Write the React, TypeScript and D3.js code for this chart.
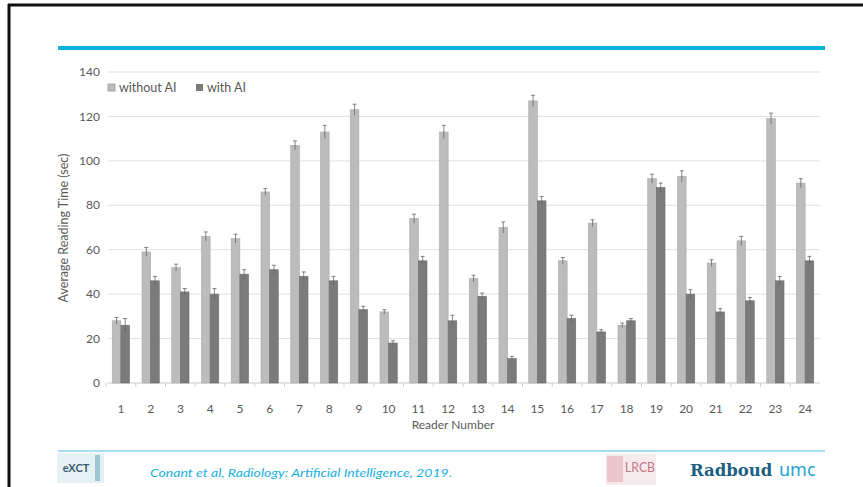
import React from "react";
import * as d3 from "d3";

// reader ids and average reading times (sec)
const readers = ["1","2","3","4","5","6","7","8","9","10","11","12","13","14","15","16","17","18","19","20","21","22","23","24"];
const withoutAI = [28, 59, 52, 66, 65, 86, 107, 113, 123, 32, 74, 113, 47, 70, 127, 55, 72, 26, 92, 93, 54, 64, 119, 90];
const withAI = [26, 46, 41, 40, 49, 51, 48, 46, 33, 18, 55, 28, 39, 11, 82, 29, 23, 28, 88, 40, 32, 37, 46, 55];
const errWithout = [1.5, 2, 1.5, 2, 2, 1.5, 2, 3, 2.5, 1, 2, 3, 1.5, 2.5, 2.5, 1.5, 1.5, 1, 2, 2.5, 1.5, 2, 2.5, 2];
const errWith = [3, 2, 1.5, 2.5, 2, 2, 2, 2, 1.5, 1, 2, 2.5, 1.5, 1, 2, 1.5, 1, 1, 2, 2, 1.5, 1.5, 2, 2];
const yTicks = [0, 20, 40, 60, 80, 100, 120, 140];
const seriesNames = ["without AI", "with AI"];

const W = 863;
const H = 487;
const FONT = "Lato, 'Open Sans', sans-serif";
const LIGHT = "#bcbcbc";
const DARK = "#7b7b7b";
const TXT = "#595959";

export default function App() {
  const x = d3.scaleBand<string>().domain(readers).range([106, 820]).paddingInner(0.42).paddingOuter(0.21);
  const sub = d3.scaleBand<string>().domain(seriesNames).range([0, x.bandwidth()]);
  const y = d3.scaleLinear().domain([0, 140]).range([383, 72]);

  const bars = (vals: number[], errs: number[], name: string, fill: string) =>
    vals.map((v, i) => {
      const x0 = (x(readers[i]) ?? 0) + (sub(name) ?? 0);
      const w = sub.bandwidth();
      const cx = x0 + w / 2;
      return (
        <g key={name + i}>
          <rect x={x0} y={y(v)} width={w} height={y(0) - y(v)} fill={fill} stroke={fill === LIGHT ? "#a9a9a9" : "#6c6c6c"} strokeWidth={0.6} />
          <line x1={cx} x2={cx} y1={y(v + errs[i])} y2={y(v - errs[i])} stroke="#666" strokeWidth={0.8} />
          <line x1={cx - 2} x2={cx + 2} y1={y(v + errs[i])} y2={y(v + errs[i])} stroke="#666" strokeWidth={0.8} />
        </g>
      );
    });

  return (
    <svg width={W} height={H} style={{ position: "absolute", left: 0, top: 0, background: "#fff" }} fontFamily={FONT}>
      {/* slide frame */}
      <line x1={8} x2={W} y1={5} y2={5} stroke="#111" strokeWidth={3} />
      <line x1={9} x2={9} y1={4} y2={H} stroke="#111" strokeWidth={3} />
      <line x1={58} x2={825} y1={48} y2={48} stroke="#0fb1e1" strokeWidth={4} />

      {/* gridlines and y ticks */}
      {yTicks.map((t) => (
        <g key={t}>
          <line x1={108} x2={820} y1={y(t)} y2={y(t)} stroke={t === 0 ? "#c8c8c8" : "#e0e0e0"} strokeWidth={1} />
          <text x={100} y={y(t)} dy="0.35em" textAnchor="end" fontSize={12} fill={TXT}>{t}</text>
        </g>
      ))}
      {readers.map((r) => (
        <line key={"tk" + r} x1={(x(r) ?? 0) - x.step() * 0.21} x2={(x(r) ?? 0) - x.step() * 0.21} y1={y(0)} y2={y(0) + 4} stroke="#d0d0d0" />
      ))}

      {bars(withoutAI, errWithout, seriesNames[0], LIGHT)}
      {bars(withAI, errWith, seriesNames[1], DARK)}

      {/* x labels */}
      {readers.map((r) => (
        <text key={"xl" + r} x={(x(r) ?? 0) + x.bandwidth() / 2} y={413} textAnchor="middle" fontSize={12} fill={TXT}>{r}</text>
      ))}
      <text x={453} y={429} textAnchor="middle" fontSize={12} fill={TXT}>Reader Number</text>
      <text transform="translate(68,228) rotate(-90)" textAnchor="middle" fontSize={12.5} fill={TXT}>Average Reading Time (sec)</text>

      {/* legend */}
      <rect x={108} y={84} width={7} height={7} fill={LIGHT} stroke="#999" strokeWidth={0.8} />
      <text x={119} y={91.5} fontSize={12.5} fill={TXT}>{seriesNames[0]}</text>
      <rect x={196} y={84} width={7} height={7} fill={DARK} />
      <text x={207} y={91.5} fontSize={12.5} fill={TXT}>{seriesNames[1]}</text>

      {/* footer */}
      <line x1={58} x2={825} y1={451} y2={451} stroke="#4cc1e6" strokeWidth={1} />
      <rect x={57} y={453} width={47} height={30} fill="#e6f1f4" />
      <rect x={95} y={455} width={5} height={26} fill="#9cc7d3" />
      <text x={76} y={472} textAnchor="middle" fontSize={11} fontWeight="bold" fill="#3d5b6e">eXCT</text>
      <text x={150} y={477} fontSize={12} fontStyle="italic" fill="#19b0de" textLength={302} lengthAdjust="spacingAndGlyphs">Conant et al, Radiology: Artificial Intelligence, 2019.</text>
      <rect x={606} y={454} width={50} height={31} fill="#f7eaec" />
      <rect x={607} y={456} width={16} height={26} fill="#ecc6cc" />
      <text x={625} y={472} fontSize={14} fill="#c27685" textLength={30} lengthAdjust="spacingAndGlyphs">LRCB</text>
      <text x={690} y={476} fontSize={16.5} fontWeight="bold" fontFamily="'DejaVu Serif', serif" fill="#1c5f82">Radboud</text>
      <text x={779} y={476} fontSize={18} fontFamily="'Noto Sans', sans-serif" fill="#1fa3d3">umc</text>
    </svg>
  );
}
